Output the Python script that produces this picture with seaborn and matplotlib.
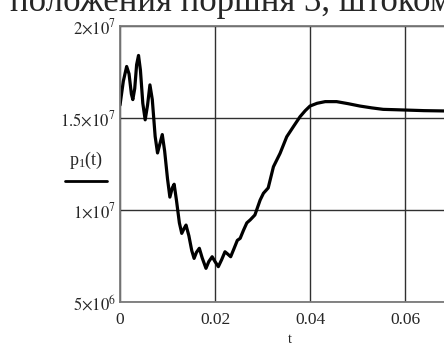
import matplotlib
matplotlib.use("Agg")
import matplotlib.pyplot as plt
import numpy as np
import pandas as pd
import seaborn as sns
from matplotlib.lines import Line2D

# time, s
t = [0.0000, 0.0007, 0.0014, 0.0019, 0.0024, 0.0027, 0.0031, 0.0035, 0.0039, 0.0043,
     0.0048, 0.0053, 0.0058, 0.0063, 0.0068, 0.0074, 0.0079, 0.0084, 0.0089, 0.0094,
     0.0100, 0.0105, 0.0110, 0.0114, 0.0119, 0.0125, 0.0130, 0.0135, 0.0139, 0.0145,
     0.0151, 0.0156, 0.0161, 0.0167, 0.0173, 0.0181, 0.0187, 0.0194, 0.0200, 0.0207,
     0.0214, 0.0221, 0.0227, 0.0233, 0.0240, 0.0247, 0.0253, 0.0260, 0.0267, 0.0274,
     0.0284, 0.0295, 0.0302, 0.0312, 0.0323, 0.0337, 0.0351, 0.0365, 0.0379, 0.0390,
     0.0400, 0.0415, 0.0432, 0.0456, 0.0480, 0.0505, 0.0530, 0.0554, 0.0580, 0.0604,
     0.0640, 0.0690]
# pressure p1(t), Pa
p1 = [1.57e7, 1.70e7, 1.78e7, 1.74e7, 1.63e7, 1.60e7, 1.66e7, 1.79e7, 1.84e7, 1.76e7,
      1.58e7, 1.49e7, 1.57e7, 1.68e7, 1.60e7, 1.40e7, 1.31e7, 1.36e7, 1.41e7, 1.32e7,
      1.17e7, 1.07e7, 1.12e7, 1.14e7, 1.05e7, 9.3e6, 8.73e6, 9.0e6, 9.18e6, 8.6e6,
      7.8e6, 7.37e6, 7.7e6, 7.92e6, 7.4e6, 6.83e6, 7.2e6, 7.46e6, 7.2e6, 6.92e6,
      7.3e6, 7.73e6, 7.6e6, 7.46e6, 7.9e6, 8.35e6, 8.46e6, 8.9e6, 9.3e6, 9.46e6,
      9.73e6, 1.054e7, 1.091e7, 1.12e7, 1.235e7, 1.308e7, 1.398e7, 1.453e7, 1.507e7, 1.54e7,
      1.565e7, 1.58e7, 1.589e7, 1.589e7, 1.578e7, 1.565e7, 1.555e7, 1.547e7, 1.545e7, 1.543e7,
      1.540e7, 1.538e7]

x_ticks = [0, 0.02, 0.04, 0.06]
x_labels = ["0", "0.02", "0.04", "0.06"]
y_ticks = [5e6, 1e7, 1.5e7, 2e7]
y_labels = [r"$5{\times}10^{6}$", r"$1{\times}10^{7}$", r"$1.5{\times}10^{7}$", r"$2{\times}10^{7}$"]

sns.set_style("white")
plt.rcParams["font.family"] = ["Liberation Serif", "DejaVu Serif"]
plt.rcParams["mathtext.fontset"] = "stix"

fig = plt.figure(figsize=(4.44, 3.45), dpi=100)
ax = fig.add_axes([120 / 444, 1 - 302 / 345, 1 - 120 / 444, 276 / 345])

df = pd.DataFrame({"t": t, "p1": p1})
sns.lineplot(data=df, x="t", y="p1", ax=ax, color="black", linewidth=2.3,
             sort=False, estimator=None)

ax.set_xlim(0, 0.02 * (444 - 120) / 95)
ax.set_ylim(5e6, 2e7)
ax.set_xticks(x_ticks)
ax.set_xticklabels(x_labels)
ax.set_yticks(y_ticks)
ax.set_yticklabels(y_labels)
ax.tick_params(axis="x", labelsize=12.5, length=0, pad=7)
ax.tick_params(axis="y", labelsize=12, length=0, pad=3)
ax.grid(True, color="#303030", linewidth=1.0)
ax.set_xlabel("")
ax.set_ylabel("")
for s in ["left", "bottom", "top"]:
    ax.spines[s].set_color("#7a7a7a")
    ax.spines[s].set_linewidth(1.3)
ax.spines["right"].set_visible(False)

# Mathcad-style trace label with its line sample
fig.text(86 / 444, 1 - 160 / 345, r"$\mathregular{p_1(t)}$", ha="center", va="center", fontsize=13)
fig.add_artist(Line2D([65 / 444, 107 / 444], [1 - 181 / 345, 1 - 181 / 345],
                      color="black", linewidth=2, transform=fig.transFigure))
fig.text(290 / 444, 1 - 333 / 345, "t", ha="center", va="top", fontsize=10)

# clipped caption line from the page above
fig.text(10 / 444, 1 - 11 / 345, "положения поршня 3, штоком", ha="left",
         va="baseline", fontsize=25)

fig.savefig("out.png", dpi=100)
